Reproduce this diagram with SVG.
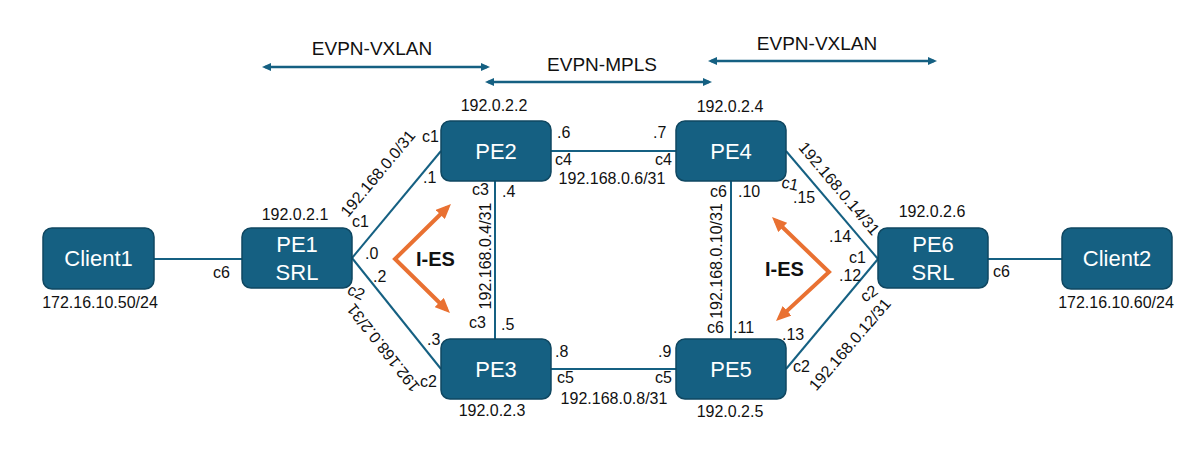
<svg xmlns="http://www.w3.org/2000/svg" width="1198" height="452" viewBox="0 0 1198 452">
<style>
.node{fill:#156082;stroke:#0F4761;stroke-width:1.5}
.nt{font-family:"Liberation Sans",Arial,sans-serif;font-size:22px;fill:#FFFFFF;text-anchor:middle}
.lb{font-family:"Liberation Sans",Arial,sans-serif;font-size:16px;fill:#111111}
.mid{text-anchor:middle}
.link{stroke:#156082;stroke-width:2;fill:none}
.span{stroke:#156082;stroke-width:2.5;fill:none}
.ies{stroke:#E97132;stroke-width:4;fill:none;stroke-linejoin:miter}
.big{font-family:"Liberation Sans",Arial,sans-serif;font-size:19px;fill:#111111;text-anchor:middle}
.iest{font-family:"Liberation Sans",Arial,sans-serif;font-size:20px;font-weight:bold;fill:#111111}
</style>
<defs>
<marker id="ah" markerUnits="userSpaceOnUse" viewBox="0 0 15 13" markerWidth="15" markerHeight="13" refX="10" refY="6.5" orient="auto-start-reverse"><path d="M0,0 L15,6.5 L0,13 z" fill="#E97132"/></marker>
<marker id="bh" markerUnits="userSpaceOnUse" viewBox="0 0 9 8" markerWidth="9" markerHeight="8" refX="6" refY="4" orient="auto-start-reverse"><path d="M0,0 L9,4 L0,8 z" fill="#156082"/></marker>
</defs>

<g id="connectors">
<line class="link" x1="154" y1="259" x2="242" y2="259"/>
<line class="link" x1="352" y1="258" x2="441" y2="151"/>
<line class="link" x1="352" y1="258" x2="441" y2="369"/>
<line class="link" x1="495" y1="181" x2="495" y2="339"/>
<line class="link" x1="551" y1="151" x2="676" y2="151"/>
<line class="link" x1="551" y1="369" x2="676" y2="369"/>
<line class="link" x1="731" y1="181" x2="731" y2="339"/>
<line class="link" x1="786" y1="151" x2="878" y2="259"/>
<line class="link" x1="786" y1="369" x2="878" y2="259"/>
<line class="link" x1="988" y1="259" x2="1062" y2="259"/>
</g>

<g id="spans">
<line class="span" x1="265" y1="67" x2="487" y2="67" marker-start="url(#bh)" marker-end="url(#bh)"/>
<line class="span" x1="488" y1="82" x2="709" y2="82" marker-start="url(#bh)" marker-end="url(#bh)"/>
<line class="span" x1="711" y1="61" x2="934" y2="61" marker-start="url(#bh)" marker-end="url(#bh)"/>
<text class="big" x="372" y="55">EVPN-VXLAN</text>
<text class="big" x="602" y="71">EVPN-MPLS</text>
<text class="big" x="817" y="50">EVPN-VXLAN</text>
</g>

<g id="ies-left">
<polyline class="ies" points="447.4,207.5 395,259 446.4,309.5" marker-start="url(#ah)" marker-end="url(#ah)"/>
<text class="iest" x="416" y="266">I-ES</text>
</g>
<g id="ies-right">
<polyline class="ies" points="775.6,220.5 829,272 779.7,317.6" marker-start="url(#ah)" marker-end="url(#ah)"/>
<text class="iest" x="765" y="276">I-ES</text>
</g>

<g id="Client1">
<rect class="node" x="43" y="228" width="111" height="61" rx="9"/>
<text class="nt" x="98.5" y="266">Client1</text>
<text class="lb mid" x="100" y="308">172.16.10.50/24</text>
</g>
<g id="PE1">
<rect class="node" x="242" y="228" width="110" height="60" rx="9"/>
<text class="nt" x="297" y="252">PE1</text>
<text class="nt" x="297" y="280">SRL</text>
<text class="lb mid" x="295" y="220">192.0.2.1</text>
</g>
<g id="PE2">
<rect class="node" x="441" y="121" width="110" height="60" rx="9"/>
<text class="nt" x="496" y="159">PE2</text>
<text class="lb mid" x="494" y="111">192.0.2.2</text>
</g>
<g id="PE3">
<rect class="node" x="441" y="339" width="110" height="60" rx="9"/>
<text class="nt" x="496" y="377">PE3</text>
<text class="lb mid" x="492" y="416">192.0.2.3</text>
</g>
<g id="PE4">
<rect class="node" x="676" y="121" width="110" height="60" rx="9"/>
<text class="nt" x="731" y="159">PE4</text>
<text class="lb mid" x="730" y="112">192.0.2.4</text>
</g>
<g id="PE5">
<rect class="node" x="676" y="339" width="110" height="60" rx="9"/>
<text class="nt" x="731" y="377">PE5</text>
<text class="lb mid" x="730" y="417">192.0.2.5</text>
</g>
<g id="PE6">
<rect class="node" x="878" y="228" width="110" height="60" rx="9"/>
<text class="nt" x="933" y="252">PE6</text>
<text class="nt" x="933" y="280">SRL</text>
<text class="lb mid" x="932" y="217">192.0.2.6</text>
</g>
<g id="Client2">
<rect class="node" x="1062" y="228" width="110" height="61" rx="9"/>
<text class="nt" x="1117" y="266">Client2</text>
<text class="lb mid" x="1116" y="308">172.16.10.60/24</text>
</g>

<g id="labels">
<text class="lb" x="213" y="278">c6</text>
<text class="lb" x="993" y="277">c6</text>
<text class="lb" x="422" y="142">c1</text>
<text class="lb" x="423" y="183">.1</text>
<text class="lb" x="352" y="227">c1</text>
<text class="lb" x="365" y="259">.0</text>
<text class="lb" x="373" y="282">.2</text>
<text class="lb mid" transform="translate(354,297) rotate(25)">c2</text>
<text class="lb" x="427" y="345">.3</text>
<text class="lb" x="420" y="387">c2</text>
<text class="lb mid" transform="translate(382,177) rotate(-50.3)">192.168.0.0/31</text>
<text class="lb mid" transform="translate(387.5,344.5) rotate(-128.3)">192.168.0.2/31</text>
<text class="lb" x="557" y="138">.6</text>
<text class="lb" x="653" y="138">.7</text>
<text class="lb" x="555" y="165">c4</text>
<text class="lb" x="655" y="165">c4</text>
<text class="lb mid" x="612" y="184">192.168.0.6/31</text>
<text class="lb" x="472" y="195">c3</text>
<text class="lb" x="502" y="197">.4</text>
<text class="lb mid" transform="translate(490.7,256) rotate(-90)">192.168.0.4/31</text>
<text class="lb" x="469" y="328">c3</text>
<text class="lb" x="501" y="330">.5</text>
<text class="lb" x="555" y="357">.8</text>
<text class="lb" x="658" y="357">.9</text>
<text class="lb" x="557" y="383">c5</text>
<text class="lb" x="655" y="383">c5</text>
<text class="lb mid" x="614" y="404">192.168.0.8/31</text>
<text class="lb" x="710" y="197">c6</text>
<text class="lb" x="738" y="197">.10</text>
<text class="lb mid" transform="translate(722,261) rotate(-90)">192.168.0.10/31</text>
<text class="lb" x="707" y="333">c6</text>
<text class="lb" x="733" y="333">.11</text>
<text class="lb mid" transform="translate(789,189) rotate(12)">c1</text>
<text class="lb" x="793" y="203">.15</text>
<text class="lb mid" transform="translate(835,192) rotate(49.8)">192.168.0.14/31</text>
<text class="lb" x="829" y="242">.14</text>
<text class="lb" x="849" y="263">c1</text>
<text class="lb" x="839" y="281">.12</text>
<text class="lb mid" transform="translate(872,298) rotate(-35)">c2</text>
<text class="lb mid" transform="translate(854,348) rotate(-49.3)">192.168.0.12/31</text>
<text class="lb" x="782" y="340">.13</text>
<text class="lb" x="793" y="372">c2</text>
</g>
</svg>
